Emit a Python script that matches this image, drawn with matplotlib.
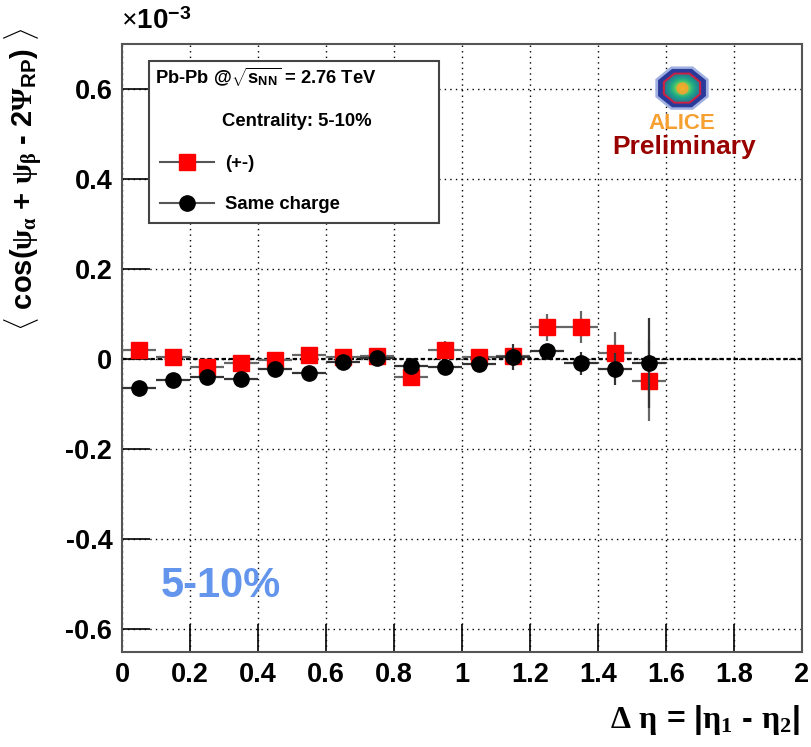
import numpy as np
import matplotlib
matplotlib.use("Agg")
import matplotlib.pyplot as plt
from matplotlib.lines import Line2D
from matplotlib.patches import Rectangle, Polygon

plt.rcParams['font.family'] = ['Liberation Sans', 'DejaVu Sans']
plt.rcParams['font.weight'] = 'bold'
plt.rcParams['mathtext.fontset'] = 'custom'
plt.rcParams['mathtext.rm'] = 'Liberation Serif'
plt.rcParams['mathtext.it'] = 'Liberation Serif'
plt.rcParams['mathtext.bf'] = 'Liberation Sans:bold'
plt.rcParams['mathtext.sf'] = 'Liberation Sans'

# delta eta bins (width 0.1), correlator in units of 1e-3
deta = np.arange(0.05, 1.6, 0.1)
deta_halfwidth = 0.05

opp_charge = [0.020, 0.004, -0.018, -0.008, -0.002, 0.010, 0.004, 0.008,
              -0.040, 0.020, 0.004, 0.007, 0.071, 0.071, 0.013, -0.048]
opp_err = [0.008, 0.010, 0.010, 0.012, 0.010, 0.010, 0.010, 0.012,
           0.015, 0.020, 0.012, 0.012, 0.030, 0.036, 0.047, 0.090]

same_charge = [-0.064, -0.045, -0.039, -0.044, -0.021, -0.030, -0.006, 0.002,
               -0.014, -0.018, -0.010, 0.005, 0.018, -0.009, -0.021, -0.008]
same_err = [0.008, 0.008, 0.008, 0.008, 0.008, 0.008, 0.008, 0.010,
            0.012, 0.012, 0.012, 0.028, 0.015, 0.025, 0.036, 0.100]

W, H = 811, 747
fig = plt.figure(figsize=(W / 100, H / 100), dpi=100)
ax = fig.add_axes([122 / W, 1 - 652 / H, 680 / W, 608 / H])

ax.set_xlim(0, 2)
ax.set_ylim(-0.65, 0.70)
ax.set_xticks(np.arange(0, 2.01, 0.2))
ax.set_xticklabels(['0', '0.2', '0.4', '0.6', '0.8', '1', '1.2', '1.4', '1.6', '1.8', '2'])
ax.set_yticks([-0.6, -0.4, -0.2, 0, 0.2, 0.4, 0.6])
ax.set_yticklabels(['-0.6', '-0.4', '-0.2', '0', '0.2', '0.4', '0.6'])
ax.tick_params(direction='in', length=20, width=1.2, labelsize=19.5, pad=7)
for s in ax.spines.values():
    s.set_color('#555555')
    s.set_linewidth(1.5)

ax.grid(True, color='black', linestyle=(0, (1, 3)), linewidth=1.0)
ax.axhline(0, color='black', linestyle=(0, (2, 1.2)), linewidth=1.6, zorder=1)

ax.errorbar(deta, opp_charge, xerr=deta_halfwidth, yerr=opp_err, fmt='s',
            color='red', ms=11, mec='red', ecolor='#666666', elinewidth=1.6,
            capsize=0, zorder=3)
ax.errorbar(deta, same_charge, xerr=deta_halfwidth, yerr=same_err, fmt='o',
            color='black', ms=11, ecolor='#333333', elinewidth=1.6,
            capsize=0, zorder=4)

# legend box
box = Rectangle((0.0397, 0.7056), 0.4265, 0.2664, transform=ax.transAxes,
                facecolor='white', edgecolor='#444444', linewidth=1.5, zorder=10)
ax.add_patch(box)
ax.text(0.0485, 0.9457, r'Pb-Pb @$\sqrt{\mathbf{s}_{\mathsf{NN}}}$ = 2.76 TeV',
        transform=ax.transAxes, fontsize=13.2, va='center', zorder=11)
ax.text(0.147, 0.873, 'Centrality: 5-10%', transform=ax.transAxes,
        fontsize=13.3, va='center', zorder=11)
handles = [Line2D([], [], color='#555555', lw=1.5, marker='s', ms=11,
                  mfc='red', mec='red'),
           Line2D([], [], color='#555555', lw=1.5, marker='o', ms=11,
                  mfc='black', mec='black')]
leg = ax.legend(handles, ['(+-)', 'Same charge'], loc='upper left',
                bbox_to_anchor=(0.0559, 0.817), frameon=False, fontsize=13.3,
                handlelength=2.9, handletextpad=0.6, labelspacing=1.3,
                borderpad=0, borderaxespad=0)
leg.set_zorder(12)

ax.text(0.29, -0.503, '5-10%', fontsize=30, color='#6495ED', ha='center',
        va='center')

# ALICE logo
lax = fig.add_axes([645 / W, 1 - 133 / H, 74 / W, 67 / H])
lax.set_xlim(0, 1)
lax.set_ylim(0, 1)
lax.axis('off')
ang = np.deg2rad(np.arange(22.5, 360, 45))
cx, cy = 0.50, 0.67
lax.add_patch(Polygon(np.c_[cx + 0.39 * np.cos(ang), cy + 0.35 * np.sin(ang)],
                      facecolor='#9fb0e0', edgecolor='none', zorder=1))
lax.add_patch(Polygon(np.c_[cx + 0.35 * np.cos(ang), cy + 0.31 * np.sin(ang)],
                      facecolor='#2a3a9a', edgecolor='none', zorder=2))
lax.add_patch(Polygon(np.c_[cx + 0.28 * np.cos(ang), cy + 0.25 * np.sin(ang)],
                      facecolor='#d02040', edgecolor='none', zorder=3))
yy, xx = np.mgrid[-1:1:40j, -1:1:40j]
rr = np.hypot(xx, yy)
grad = lax.imshow(rr, extent=(cx - 0.25, cx + 0.25, cy - 0.22, cy + 0.22),
                  cmap='viridis_r', vmin=0, vmax=1.6, aspect='auto', zorder=4)
grad.set_clip_path(Polygon(np.c_[cx + 0.25 * np.cos(ang), cy + 0.22 * np.sin(ang)],
                           transform=lax.transData))
lax.scatter([cx], [cy], s=60, color='#f7a030', alpha=0.8, zorder=5)
lax.text(0.5, 0.14, 'ALICE', color='#f5a030', fontsize=16, ha='center',
         va='center')

fig.text(684 / W, 1 - 147 / H, 'Preliminary', color='#990000', fontsize=19,
         ha='center', va='center')

fig.text(121 / W, 1 - 22 / H, r'$\times$10$^{\mathbf{-3}}$', fontsize=20,
         ha='left', va='center')

fig.text(24 / W, 1 - 28 / H,
         r'$\langle$ cos($\psi_{\alpha}$ + $\psi_{\beta}$ - 2$\Psi_{\mathbf{RP}}$) $\rangle$',
         rotation=90, fontsize=21, ha='center', va='top')
fig.text(800 / W, 1 - 720 / H, r'$\Delta\ \eta$ = |$\eta_{1}$ - $\eta_{2}$|',
         fontsize=23, ha='right', va='center')

fig.savefig('out.png', dpi=100)
